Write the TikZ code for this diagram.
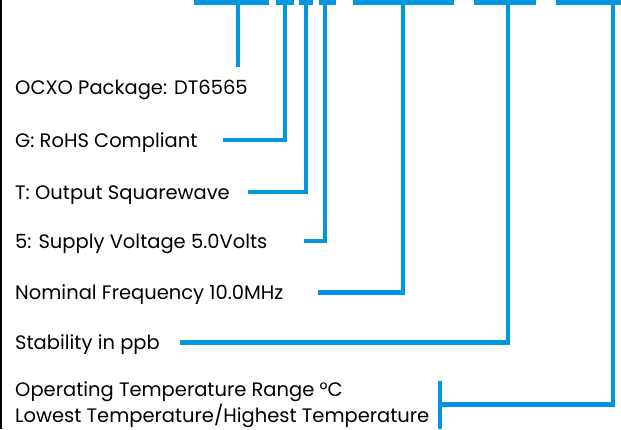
\documentclass[tikz,border=0pt]{standalone}
\usepackage{fontspec}
\setmainfont{Poppins}
\definecolor{partblue}{RGB}{0,150,224}
\tikzset{
    partlabel/.style={anchor=base west,inner sep=0pt,font=\fontsize{19.5}{24}\selectfont},
    partline/.style={partblue,line width=4.8pt},
}
\begin{document}
\begin{tikzpicture}[x=1pt,y=-1pt]
        \useasboundingbox (0,0) rectangle (621,429);
        %% Frame edge
        \draw[line width=2pt] (1,0) -- (1,429);
        %% Part number fields
        \foreach \a/\b in {194/269,276/294,299/313,319/336,353/454,474/536,556/621}
            \draw[partline] (\a,2.2) -- (\b,2.2);
        \coordinate (s1) at (238,0);
        \coordinate (s2) at (285,0);
        \coordinate (s3) at (306,0);
        \coordinate (s4) at (325,0);
        \coordinate (s5) at (403,0);
        \coordinate (s6) at (508,0);
        \coordinate (s7) at (613,0);
        %% Labels
        \node[partlabel] (pkg)  at (15,94)  {OCXO Package: DT6565};
        \node[partlabel] (rohs) at (15,147) {G: RoHS Compliant};
        \node[partlabel] (outp) at (15,199) {T: Output Squarewave};
        \node[partlabel] (volt) at (15,248) {5: Supply Voltage 5.0Volts};
        \node[partlabel] (freq) at (15,299) {Nominal Frequency 10.0MHz};
        \node[partlabel] (stab) at (15,349) {Stability in ppb};
        \node[partlabel] (temp) at (15,396) {Operating Temperature Range °C};
        \node[partlabel] (temp2) at (15,422) {Lowest Temperature/Highest Temperature};
        %% Leader lines
        \coordinate (p1) at (238,67);
        \coordinate (p2) at (223,140);
        \coordinate (p3) at (248,192);
        \coordinate (p4) at (304,241);
        \coordinate (p5) at (318,292.3);
        \coordinate (p6) at (180,342.5);
        \coordinate (p7) at (440,404.7);
        \coordinate (tt) at (440,381);
        \coordinate (tb) at (440,429);
        \draw[partline] (s1) -- (p1);
        \draw[partline] (p2) -| (s2);
        \draw[partline] (p3) -| (s3);
        \draw[partline] (p4) -| (s4);
        \draw[partline] (p5) -| (s5);
        \draw[partline] (p6) -| (s6);
        \draw[partline] (tt) -- (tb);
        \draw[partline] (p7) -| (s7);
\end{tikzpicture}
\end{document}
